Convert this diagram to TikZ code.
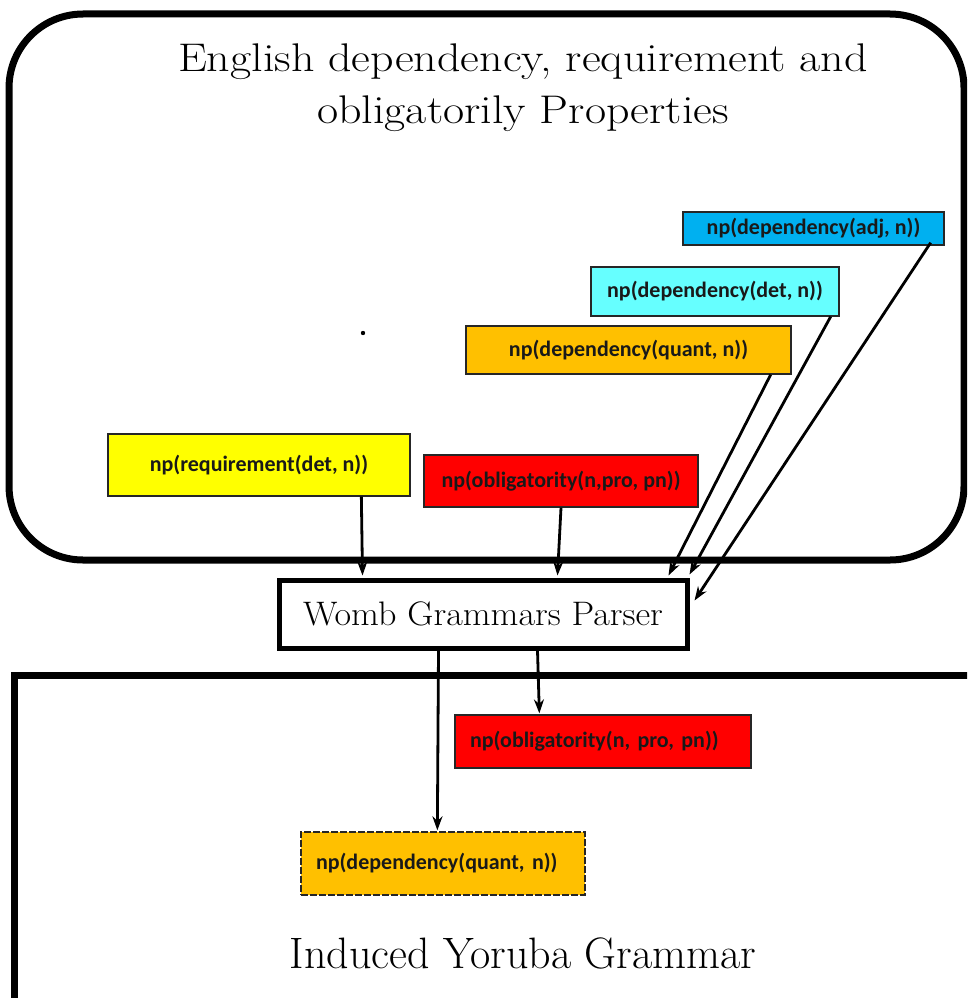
\documentclass[tikz,border=0pt]{standalone}
\usepackage{fontspec}
\newfontfamily\boxfont{Carlito}
\usetikzlibrary{arrows.meta,calc}
\definecolor{propblue}{HTML}{00B0F0}
\definecolor{propcyan}{HTML}{66FFFF}
\definecolor{proporange}{HTML}{FFC000}
\definecolor{propyellow}{HTML}{FFFF00}
\definecolor{propred}{HTML}{FF0000}
\tikzset{
  prop/.style={draw=black!85, line width=1.3pt, rectangle, inner sep=0pt,
    font=\boxfont\bfseries\fontsize{22}{26}\selectfont, text=black!90},
  conn/.style={line width=2.8pt, -{Stealth[length=14pt,width=10pt]}},
  frame/.style={line width=7pt},
}
\begin{document}
\begin{tikzpicture}[x=1pt,y=-1pt]
\useasboundingbox (0,0) rectangle (967,998);
\clip (0,0) rectangle (967,998);
% frames
\draw[frame, rounded corners=74pt] (9,14) rectangle (964,560);
\draw[frame] (14,675) rectangle (1010,1010);
% title
\node[align=center, inner sep=0pt, font=\fontsize{40}{52}\selectfont] (title) at (523,88)
  {\scalebox{1.15}[1]{English dependency, requirement and}\\\scalebox{1.15}[1]{obligatorily Properties}};
\fill (363,333) circle (2.2pt);
% property boxes
\node[prop, fill=propblue, minimum width=261pt, minimum height=33pt] (adj) at (813.5,228.5) {np(dependency(adj, n))};
\node[prop, fill=propcyan, minimum width=248pt, minimum height=49pt] (det) at (715,291.5) {np(dependency(det, n))};
\node[prop, fill=proporange, minimum width=325pt, minimum height=48pt] (quant) at (628.5,350) {np(dependency(quant, n))};
\node[prop, fill=propyellow, minimum width=302pt, minimum height=62pt] (req) at (259,465) {np(requirement(det, n))};
\node[prop, fill=propred, minimum width=274pt, minimum height=52pt] (obl) at (561,481) {np(obligatority(n,pro, pn))};
% parser
\node[draw, line width=5pt, minimum width=408pt, minimum height=68pt, inner sep=0pt,
  font=\fontsize{34}{38}\selectfont] (parser) at (483,614) {\scalebox{1.06}[1]{Womb Grammars Parser}};
% induced
\node[prop, fill=propred, minimum width=296pt, minimum height=53pt, text width=266pt, align=left] (obl2) at (603,741.5) {np(obligatority(n, pro, pn))};
\node[prop, fill=proporange, dash pattern=on 7pt off 2pt, minimum width=284pt, minimum height=63pt, text width=254pt, align=left] (quant2) at (443,863.5) {np(dependency(quant, n))};
\node[inner sep=0pt, font=\fontsize{44}{50}\selectfont] (yor) at (523,953) {Induced Yoruba Grammar};
% connectors
\draw[conn] ($(req.south west)+(254,0)$) -- ($(parser.north west)+(86,-2)$);
\draw[conn] (obl.south) -- ($(parser.north west)+(281,-2)$);
\draw[conn] ($(quant.south east)+(-21,0)$) -- ($(parser.north east)+(-21,-2)$);
\draw[conn] ($(det.south east)+(-9,0)$) -- ($(parser.north east)+(0,-3)$);
\draw[conn] ($(adj.south east)+(-14,-3)$) -- ($(parser.north east)+(5,23)$);
\draw[conn] ($(parser.south west)+(162,0)$) -- ($(quant2.north west)+(137,-1)$);
\draw[conn] ($(parser.south west)+(261,0)$) -- ($(obl2.north west)+(85,-1)$);
\end{tikzpicture}
\end{document}
